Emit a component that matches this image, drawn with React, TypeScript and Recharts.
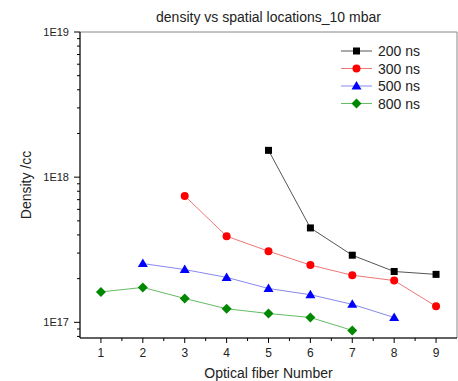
import { LineChart, Line, XAxis, YAxis, ReferenceArea } from 'recharts';

const fibers = [1, 2, 3, 4, 5, 6, 7, 8, 9];

// densities per fibre, null where there is no point
const d200 = [null, null, null, null, 1.53e18, 4.47e17, 2.9e17, 2.24e17, 2.14e17];
const d300 = [null, null, 7.43e17, 3.92e17, 3.09e17, 2.48e17, 2.11e17, 1.94e17, 1.29e17];
const d500 = [null, 2.54e17, 2.31e17, 2.04e17, 1.71e17, 1.55e17, 1.33e17, 1.08e17, null];
const d800 = [1.62e17, 1.74e17, 1.46e17, 1.24e17, 1.15e17, 1.08e17, 8.8e16, null, null];

const xMajor = [1, 2, 3, 4, 5, 6, 7, 8, 9];
const xMinor = [1.5, 2.5, 3.5, 4.5, 5.5, 6.5, 7.5, 8.5];
const yMajor = [1e17, 1e18, 1e19];
const yLabels = ['1E17', '1E18', '1E19'];
const yMinor = [
  8e16, 9e16,
  2e17, 3e17, 4e17, 5e17, 6e17, 7e17, 8e17, 9e17,
  2e18, 3e18, 4e18, 5e18, 6e18, 7e18, 8e18, 9e18,
];

const data = fibers.map((f, i) => ({
  fiber: f,
  s200: d200[i],
  s300: d300[i],
  s500: d500[i],
  s800: d800[i],
}));

const font = '"Liberation Sans", Arial, sans-serif';

const series = [
  { key: 's200', name: '200 ns', line: '#555', mark: '#000', shape: 'square' },
  { key: 's300', name: '300 ns', line: '#e77', mark: '#f00', shape: 'circle' },
  { key: 's500', name: '500 ns', line: '#88e', mark: '#00f', shape: 'triangle' },
  { key: 's800', name: '800 ns', line: '#6b6', mark: '#080', shape: 'diamond' },
];

function Marker({ cx, cy, shape, color }: any) {
  if (cx == null || cy == null) return null;
  if (shape === 'square') return <rect x={cx - 3.5} y={cy - 3.5} width={7} height={7} fill={color} />;
  if (shape === 'circle') return <circle cx={cx} cy={cy} r={4} fill={color} />;
  if (shape === 'triangle')
    return <polygon points={`${cx},${cy - 5} ${cx + 5},${cy + 3.5} ${cx - 5},${cy + 3.5}`} fill={color} />;
  return <polygon points={`${cx},${cy - 5} ${cx + 5},${cy} ${cx},${cy + 5} ${cx - 5},${cy}`} fill={color} />;
}

function YTick({ x, y, payload }: any) {
  const v = payload.value;
  const idx = yMajor.findIndex((m) => Math.abs(m - v) / m < 1e-6);
  const axisX = x + 11;
  if (idx < 0) return <line x1={axisX} x2={axisX - 3} y1={y} y2={y} stroke="#000" />;
  return (
    <g>
      <line x1={axisX} x2={axisX - 6} y1={y} y2={y} stroke="#000" />
      <text x={x} y={y} dy={4} textAnchor="end" fontSize={11} fontFamily={font} fill="#222">
        {yLabels[idx]}
      </text>
    </g>
  );
}

function XTick({ x, y, payload }: any) {
  const v = payload.value;
  const axisY = y - 9;
  if (!Number.isInteger(v)) return <line x1={x} x2={x} y1={axisY} y2={axisY + 3} stroke="#000" />;
  return (
    <g>
      <line x1={x} x2={x} y1={axisY} y2={axisY + 5} stroke="#000" />
      <text x={x} y={y} dy={10} textAnchor="middle" fontSize={12} fontFamily={font} fill="#222">
        {v}
      </text>
    </g>
  );
}

function LegendBox() {
  return (
    <svg width={110} height={75} style={{ position: 'absolute', left: 341, top: 43 }}>
      {series.map((s, i) => {
        const y = 8 + i * 17.5;
        return (
          <g key={s.key}>
            <line x1={0} x2={31} y1={y} y2={y} stroke={s.line} />
            <Marker cx={15.5} cy={y} shape={s.shape} color={s.mark} />
            <text x={37} y={y} dy={5} fontSize={14} fontFamily={font} fill="#222">
              {s.name}
            </text>
          </g>
        );
      })}
    </svg>
  );
}

export default function App() {
  return (
    <div style={{ position: 'fixed', left: 0, top: 0, width: 458, height: 381, background: '#fff' }}>
      <div
        style={{
          position: 'absolute',
          left: 80,
          width: 377,
          top: 9,
          textAlign: 'center',
          fontFamily: font,
          fontSize: 14,
          color: '#222',
        }}
      >
        density vs spatial locations_10 mbar
      </div>
      <LineChart width={458} height={381} data={data} margin={{ top: 32, right: 1, bottom: 0, left: 0 }}>
        <ReferenceArea x1={0.5} x2={9.5} y1={7.8e16} y2={1e19} fill="none" stroke="#888" ifOverflow="visible" />
        <XAxis
          dataKey="fiber"
          type="number"
          domain={[0.5, 9.5]}
          ticks={[...xMajor, ...xMinor].sort((a, b) => a - b)}
          interval={0}
          height={43}
          tickSize={5}
          tickMargin={4}
          tickLine={false}
          tick={<XTick />}
          stroke="#000"
          label={{ value: 'Optical fiber Number', position: 'insideBottom', offset: 3, fontSize: 14, fontFamily: font, fill: '#222' }}
        />
        <YAxis
          type="number"
          scale="log"
          domain={[7.8e16, 1e19]}
          allowDataOverflow
          ticks={[...yMinor, ...yMajor].sort((a, b) => a - b)}
          interval={0}
          width={80}
          tickSize={6}
          tickMargin={5}
          tickLine={false}
          tick={<YTick />}
          stroke="#000"
          label={{
            value: 'Density /cc',
            angle: -90,
            position: 'insideLeft',
            offset: 26,
            fontSize: 14,
            fontFamily: font,
            fill: '#222',
            style: { textAnchor: 'middle' },
          }}
        />
        {series.map((s) => (
          <Line
            key={s.key}
            dataKey={s.key}
            name={s.name}
            stroke={s.line}
            strokeWidth={1}
            connectNulls={false}
            isAnimationActive={false}
            dot={(p: any) => <Marker key={`${s.key}-${p.index}`} cx={p.cx} cy={p.cy} shape={s.shape} color={s.mark} />}
            activeDot={false}
          />
        ))}
      </LineChart>
      <LegendBox />
    </div>
  );
}
